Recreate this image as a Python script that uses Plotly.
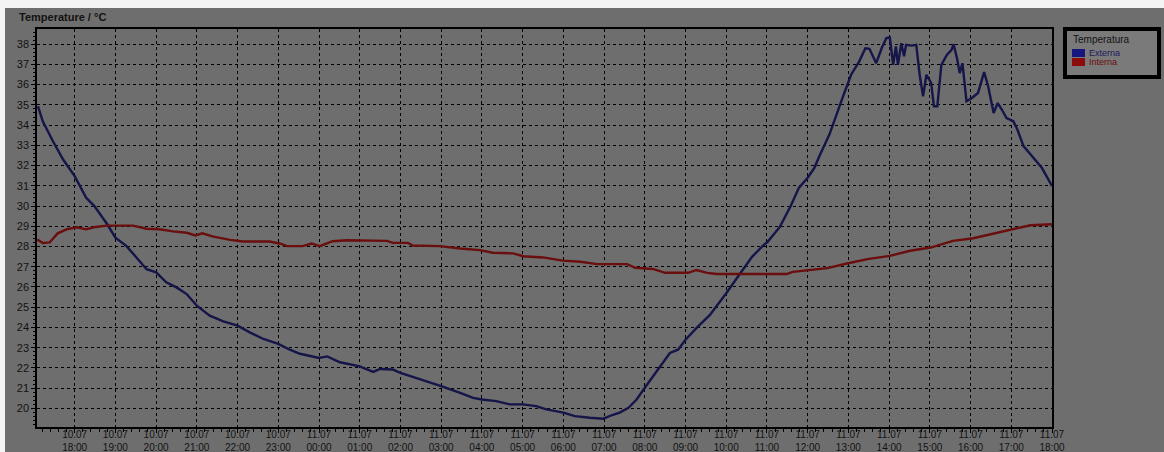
import pandas as pd
import plotly.graph_objects as go

# Outdoor temperature (Externa), 10.07 17:06 -> 11.07 18:00
ext_time = [
    "2023-07-10 17:06", "2023-07-10 17:13", "2023-07-10 17:28", "2023-07-10 17:43",
    "2023-07-10 18:00", "2023-07-10 18:17", "2023-07-10 18:29", "2023-07-10 18:40",
    "2023-07-10 18:48", "2023-07-10 19:00", "2023-07-10 19:16", "2023-07-10 19:31",
    "2023-07-10 19:46", "2023-07-10 20:00", "2023-07-10 20:15", "2023-07-10 20:30",
    "2023-07-10 20:45", "2023-07-10 21:00", "2023-07-10 21:19", "2023-07-10 21:39",
    "2023-07-10 22:00", "2023-07-10 22:18", "2023-07-10 22:38", "2023-07-10 23:00",
    "2023-07-10 23:17", "2023-07-10 23:32", "2023-07-11 00:00", "2023-07-11 00:12",
    "2023-07-11 00:31", "2023-07-11 01:00", "2023-07-11 01:20", "2023-07-11 01:30",
    "2023-07-11 01:49", "2023-07-11 02:00", "2023-07-11 02:18", "2023-07-11 02:38",
    "2023-07-11 03:00", "2023-07-11 03:28", "2023-07-11 03:47", "2023-07-11 04:00",
    "2023-07-11 04:21", "2023-07-11 04:41", "2023-07-11 05:00", "2023-07-11 05:20",
    "2023-07-11 05:35", "2023-07-11 06:00", "2023-07-11 06:17", "2023-07-11 06:39",
    "2023-07-11 06:59", "2023-07-11 07:11", "2023-07-11 07:23", "2023-07-11 07:36",
    "2023-07-11 07:48", "2023-07-11 08:00", "2023-07-11 08:17", "2023-07-11 08:37",
    "2023-07-11 08:49", "2023-07-11 09:00", "2023-07-11 09:16", "2023-07-11 09:36",
    "2023-07-11 10:00", "2023-07-11 10:20", "2023-07-11 10:38", "2023-07-11 10:55",
    "2023-07-11 11:01", "2023-07-11 11:19", "2023-07-11 11:35", "2023-07-11 11:47",
    "2023-07-11 12:00", "2023-07-11 12:10", "2023-07-11 12:17", "2023-07-11 12:32",
    "2023-07-11 12:44", "2023-07-11 12:54", "2023-07-11 13:04", "2023-07-11 13:16",
    "2023-07-11 13:25", "2023-07-11 13:31", "2023-07-11 13:41", "2023-07-11 13:49",
    "2023-07-11 13:56", "2023-07-11 14:01", "2023-07-11 14:06", "2023-07-11 14:10",
    "2023-07-11 14:13", "2023-07-11 14:18", "2023-07-11 14:22", "2023-07-11 14:25",
    "2023-07-11 14:33", "2023-07-11 14:40", "2023-07-11 14:45", "2023-07-11 14:50",
    "2023-07-11 14:55", "2023-07-11 15:02", "2023-07-11 15:06", "2023-07-11 15:11",
    "2023-07-11 15:17", "2023-07-11 15:25", "2023-07-11 15:32", "2023-07-11 15:35",
    "2023-07-11 15:40", "2023-07-11 15:44", "2023-07-11 15:48", "2023-07-11 15:54",
    "2023-07-11 16:02", "2023-07-11 16:11", "2023-07-11 16:20", "2023-07-11 16:26",
    "2023-07-11 16:34", "2023-07-11 16:40", "2023-07-11 16:46", "2023-07-11 16:53",
    "2023-07-11 17:03", "2023-07-11 17:09", "2023-07-11 17:18", "2023-07-11 17:33",
    "2023-07-11 17:45", "2023-07-11 18:00",
]
ext_temp = [
    34.93, 34.19, 33.20, 32.30,
    31.48, 30.41, 30.00, 29.51,
    29.10, 28.44, 28.03, 27.46,
    26.88, 26.72, 26.23, 25.98,
    25.65, 25.08, 24.58, 24.30,
    24.09, 23.76, 23.43, 23.19,
    22.90, 22.70, 22.49, 22.57,
    22.28, 22.08, 21.80, 21.95,
    21.92, 21.75, 21.56, 21.34,
    21.10, 20.77, 20.52, 20.44,
    20.36, 20.20, 20.20, 20.11,
    19.95, 19.79, 19.62, 19.54,
    19.49, 19.66, 19.79, 20.03,
    20.44, 21.02, 21.84, 22.74,
    22.90, 23.39, 23.97, 24.62,
    25.69, 26.67, 27.49, 28.07,
    28.23, 28.97, 30.00, 30.90,
    31.40, 31.89, 32.45, 33.53,
    34.60, 35.59, 36.49, 37.15,
    37.80, 37.77, 37.06, 37.80,
    38.30, 38.33, 36.98, 37.89,
    36.98, 38.05, 37.40, 37.97,
    37.93, 37.97, 36.49, 35.42,
    36.49, 36.08, 34.93, 34.93,
    36.98, 37.47, 37.72, 38.00,
    37.31, 36.57, 37.06, 35.18,
    35.34, 35.59, 36.62, 35.91,
    34.60, 35.09, 34.77, 34.35,
    34.19, 33.78, 32.96, 32.38,
    31.89, 30.99,
]

# Indoor temperature (Interna)
int_time = [
    "2023-07-10 17:05", "2023-07-10 17:13", "2023-07-10 17:23", "2023-07-10 17:35",
    "2023-07-10 17:48", "2023-07-10 18:03", "2023-07-10 18:17", "2023-07-10 18:28",
    "2023-07-10 18:47", "2023-07-10 19:06", "2023-07-10 19:26", "2023-07-10 19:46",
    "2023-07-10 20:05", "2023-07-10 20:25", "2023-07-10 20:45", "2023-07-10 20:58",
    "2023-07-10 21:08", "2023-07-10 21:23", "2023-07-10 21:49", "2023-07-10 22:08",
    "2023-07-10 22:47", "2023-07-10 23:02", "2023-07-10 23:13", "2023-07-10 23:36",
    "2023-07-10 23:49", "2023-07-11 00:01", "2023-07-11 00:20", "2023-07-11 00:41",
    "2023-07-11 01:40", "2023-07-11 01:49", "2023-07-11 02:11", "2023-07-11 02:18",
    "2023-07-11 02:58", "2023-07-11 03:28", "2023-07-11 03:57", "2023-07-11 04:16",
    "2023-07-11 04:46", "2023-07-11 05:01", "2023-07-11 05:30", "2023-07-11 05:59",
    "2023-07-11 06:25", "2023-07-11 06:50", "2023-07-11 07:34", "2023-07-11 07:46",
    "2023-07-11 08:12", "2023-07-11 08:30", "2023-07-11 09:04", "2023-07-11 09:16",
    "2023-07-11 09:32", "2023-07-11 09:46", "2023-07-11 11:29", "2023-07-11 11:38",
    "2023-07-11 11:59", "2023-07-11 12:29", "2023-07-11 12:58", "2023-07-11 13:28",
    "2023-07-11 14:01", "2023-07-11 14:31", "2023-07-11 15:01", "2023-07-11 15:34",
    "2023-07-11 16:04", "2023-07-11 16:34", "2023-07-11 17:03", "2023-07-11 17:28",
    "2023-07-11 18:00",
]
int_temp = [
    28.35, 28.17, 28.20, 28.65,
    28.85, 28.95, 28.85, 28.95,
    29.03, 29.03, 29.03, 28.88,
    28.85, 28.75, 28.68, 28.55,
    28.65, 28.50, 28.33, 28.25,
    28.25, 28.15, 28.02, 28.02,
    28.15, 28.02, 28.26, 28.31,
    28.28, 28.18, 28.18, 28.05,
    28.02, 27.90, 27.82, 27.69,
    27.66, 27.52, 27.46, 27.30,
    27.25, 27.13, 27.13, 26.95,
    26.89, 26.70, 26.70, 26.84,
    26.70, 26.64, 26.64, 26.75,
    26.82, 26.93, 27.16, 27.38,
    27.54, 27.79, 27.95, 28.28,
    28.41, 28.64, 28.85, 29.05,
    29.10,
]

series_names = ["Externa", "Interna"]
legend_title = "Temperatura"
y_title = "Temperature / °C"

W, H = 1164, 452
M_L, M_R, M_T, M_B = 37, 112, 29, 25
PW, PH = W - M_L - M_R, H - M_T - M_B

def px(x):
    """Pixel column -> paper x."""
    return (x - M_L) / PW

def py(y):
    """Pixel row -> paper y."""
    return (H - M_B - y) / PH

LINE_EXT = "#15154a"
LINE_INT = "#6a0e0e"
SWATCH_EXT = "#16167e"
SWATCH_INT = "#8c0c0c"
TEXT = "#121212"
FONT = "Liberation Sans, Arial, sans-serif"

fig = go.Figure()
fig.add_trace(go.Scatter(
    x=pd.to_datetime(ext_time), y=ext_temp, mode="lines", name=series_names[0],
    line=dict(color=LINE_EXT, width=2.4), showlegend=False,
))
fig.add_trace(go.Scatter(
    x=pd.to_datetime(int_time), y=int_temp, mode="lines", name=series_names[1],
    line=dict(color=LINE_INT, width=2.4), showlegend=False,
))

# page background with the light strip along top and left
shapes = [
    dict(type="rect", xref="paper", yref="paper", layer="below",
         x0=px(5), x1=px(W + 2), y0=py(H + 2), y1=py(8),
         fillcolor="#6e6e6e", line=dict(width=0)),
]

# custom legend box
shapes.append(dict(type="rect", xref="paper", yref="paper",
                   x0=px(1065), x1=px(1159), y0=py(77), y1=py(29),
                   fillcolor="#7a7a7a", line=dict(color="#000000", width=4)))
shapes.append(dict(type="rect", xref="paper", yref="paper",
                   x0=px(1072), x1=px(1085), y0=py(57), y1=py(49),
                   fillcolor=SWATCH_EXT, line=dict(width=0)))
shapes.append(dict(type="rect", xref="paper", yref="paper",
                   x0=px(1072), x1=px(1085), y0=py(66), y1=py(58),
                   fillcolor=SWATCH_INT, line=dict(width=0)))

annotations = [
    dict(text=f"<b>{y_title}</b>", xref="paper", yref="paper",
         x=px(17), y=py(17), xanchor="left", yanchor="middle",
         showarrow=False, font=dict(family=FONT, size=11, color=TEXT)),
    dict(text=legend_title, xref="paper", yref="paper",
         x=px(1071), y=py(39), xanchor="left", yanchor="middle",
         showarrow=False, font=dict(family=FONT, size=10, color=TEXT)),
    dict(text=series_names[0], xref="paper", yref="paper",
         x=px(1087), y=py(53), xanchor="left", yanchor="middle",
         showarrow=False, font=dict(family=FONT, size=9, color="#1a1a5c")),
    dict(text=series_names[1], xref="paper", yref="paper",
         x=px(1087), y=py(62.5), xanchor="left", yanchor="middle",
         showarrow=False, font=dict(family=FONT, size=9, color="#6a0c0c")),
]

fig.update_layout(
    width=W, height=H,
    margin=dict(l=M_L, r=M_R, t=M_T, b=M_B, pad=0, autoexpand=False),
    paper_bgcolor="#f4f4f4",
    plot_bgcolor="#626262",
    showlegend=False,
    shapes=shapes,
    annotations=annotations,
    font=dict(family=FONT, size=11, color=TEXT),
)

fig.update_xaxes(
    type="date", automargin=False,
    range=["2023-07-10 17:04:30", "2023-07-11 18:00"],
    tick0="2023-07-10 18:00", dtick=3600000,
    tickformat="%d.%m<br>%H:%M",
    showgrid=True, gridcolor="#000000", gridwidth=1, griddash="dot",
    showline=True, linecolor="#000000", linewidth=1.5, mirror=True,
    ticks="outside", ticklen=4, tickcolor="#000000", tickwidth=1,
    ticklabelstandoff=-7,
    minor=dict(dtick=720000, ticks="outside", ticklen=3, tickcolor="#000000", showgrid=False),
    tickfont=dict(family=FONT, size=10, color=TEXT),
    zeroline=False,
)
fig.update_yaxes(
    automargin=False,
    range=[19.08, 38.75],
    tick0=20, dtick=1,
    showgrid=True, gridcolor="#000000", gridwidth=1, griddash="dot",
    showline=True, linecolor="#000000", linewidth=1.5, mirror=True,
    ticks="outside", ticklen=4, tickcolor="#000000", tickwidth=1,
    minor=dict(dtick=0.2, ticks="outside", ticklen=2, tickcolor="#000000", showgrid=False),
    tickfont=dict(family=FONT, size=11, color=TEXT),
    zeroline=False,
)

fig.write_html("out.html")
